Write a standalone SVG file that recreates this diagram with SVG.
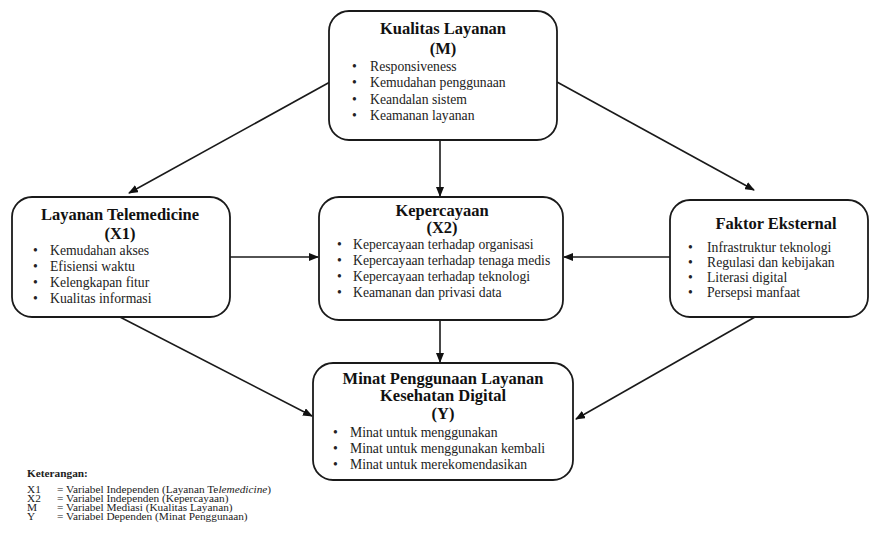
<svg xmlns="http://www.w3.org/2000/svg" width="872" height="535" viewBox="0 0 872 535">
<defs>
<marker id="ah" markerWidth="10" markerHeight="8" refX="9" refY="4" orient="auto" markerUnits="userSpaceOnUse">
<path d="M0,0 L10,4 L0,8 Z" fill="#111"/>
</marker>
<style>
.box{fill:#fff;stroke:#1a1a1a;stroke-width:1.8}
.t{font-family:"Liberation Serif","Times New Roman",serif;font-weight:bold;font-size:16.5px;fill:#111;text-anchor:middle}
.i{font-family:"Liberation Serif","Times New Roman",serif;font-size:13.7px;fill:#222}
.c{stroke:#1a1a1a;stroke-width:1.6;fill:none;marker-end:url(#ah)}
.lg{font-family:"Liberation Serif","Times New Roman",serif;font-size:11.3px;fill:#222}
</style>
</defs>
<rect width="872" height="535" fill="#fff"/>
<g id="connectors">
<line class="c" x1="330" y1="82" x2="129" y2="193"/>
<line class="c" x1="557" y1="82" x2="754" y2="190"/>
<line class="c" x1="440" y1="140" x2="440" y2="196"/>
<line class="c" x1="230" y1="257" x2="318" y2="257"/>
<line class="c" x1="670" y1="257" x2="564" y2="257"/>
<line class="c" x1="440" y1="320" x2="440" y2="362"/>
<line class="c" x1="118" y1="316" x2="312" y2="416"/>
<line class="c" x1="755" y1="317" x2="576" y2="419"/>
</g>
<g id="M">
<rect class="box" x="329" y="11" width="228" height="129" rx="20"/>
<text class="t" x="443" y="34">Kualitas Layanan</text>
<text class="t" x="443" y="54">(M)</text>
<text class="i" x="352" y="71">•</text><text class="i" x="370" y="71">Responsiveness</text>
<text class="i" x="352" y="87">•</text><text class="i" x="370" y="87">Kemudahan penggunaan</text>
<text class="i" x="352" y="104">•</text><text class="i" x="370" y="104">Keandalan sistem</text>
<text class="i" x="352" y="120">•</text><text class="i" x="370" y="120">Keamanan layanan</text>
</g>
<g id="X1">
<rect class="box" x="12" y="197" width="218" height="120" rx="20"/>
<text class="t" x="120" y="220">Layanan Telemedicine</text>
<text class="t" x="120" y="239">(X1)</text>
<text class="i" x="33" y="255">•</text><text class="i" x="50" y="255">Kemudahan akses</text>
<text class="i" x="33" y="271">•</text><text class="i" x="50" y="271">Efisiensi waktu</text>
<text class="i" x="33" y="287">•</text><text class="i" x="50" y="287">Kelengkapan fitur</text>
<text class="i" x="33" y="303">•</text><text class="i" x="50" y="303">Kualitas informasi</text>
</g>
<g id="X2">
<rect class="box" x="319" y="197" width="244" height="123" rx="20"/>
<text class="t" x="442" y="216">Kepercayaan</text>
<text class="t" x="442" y="233">(X2)</text>
<text class="i" x="337" y="249">•</text><text class="i" x="353" y="249">Kepercayaan terhadap organisasi</text>
<text class="i" x="337" y="265">•</text><text class="i" x="353" y="265">Kepercayaan terhadap tenaga medis</text>
<text class="i" x="337" y="281">•</text><text class="i" x="353" y="281">Kepercayaan terhadap teknologi</text>
<text class="i" x="337" y="297">•</text><text class="i" x="353" y="297">Keamanan dan privasi data</text>
</g>
<g id="FE">
<rect class="box" x="670" y="200" width="198" height="117" rx="20"/>
<text class="t" x="776" y="229">Faktor Eksternal</text>
<text class="i" x="688" y="252">•</text><text class="i" x="707" y="252">Infrastruktur teknologi</text>
<text class="i" x="688" y="267">•</text><text class="i" x="707" y="267">Regulasi dan kebijakan</text>
<text class="i" x="688" y="282">•</text><text class="i" x="707" y="282">Literasi digital</text>
<text class="i" x="688" y="297">•</text><text class="i" x="707" y="297">Persepsi manfaat</text>
</g>
<g id="Y">
<rect class="box" x="313" y="363" width="260" height="117" rx="20"/>
<text class="t" x="443" y="384">Minat Penggunaan Layanan</text>
<text class="t" x="443" y="401">Kesehatan Digital</text>
<text class="t" x="443" y="419">(Y)</text>
<text class="i" x="333" y="437">•</text><text class="i" x="350" y="437">Minat untuk menggunakan</text>
<text class="i" x="333" y="453">•</text><text class="i" x="350" y="453">Minat untuk menggunakan kembali</text>
<text class="i" x="333" y="469">•</text><text class="i" x="350" y="469">Minat untuk merekomendasikan</text>
</g>
<g id="legend">
<text class="lg" x="27" y="477" font-weight="bold">Keterangan:</text>
<text class="lg" x="27" y="493">X1</text><text class="lg" x="57" y="493">= Variabel Independen (Layanan Te<tspan font-style="italic">lemedicine</tspan>)</text>
<text class="lg" x="27" y="502">X2</text><text class="lg" x="57" y="502">= Variabel Independen (Kepercayaan)</text>
<text class="lg" x="27" y="511">M</text><text class="lg" x="57" y="511">= Variabel Mediasi (Kualitas Layanan)</text>
<text class="lg" x="27" y="520">Y</text><text class="lg" x="57" y="520">= Variabel Dependen (Minat Penggunaan)</text>
</g>
</svg>
